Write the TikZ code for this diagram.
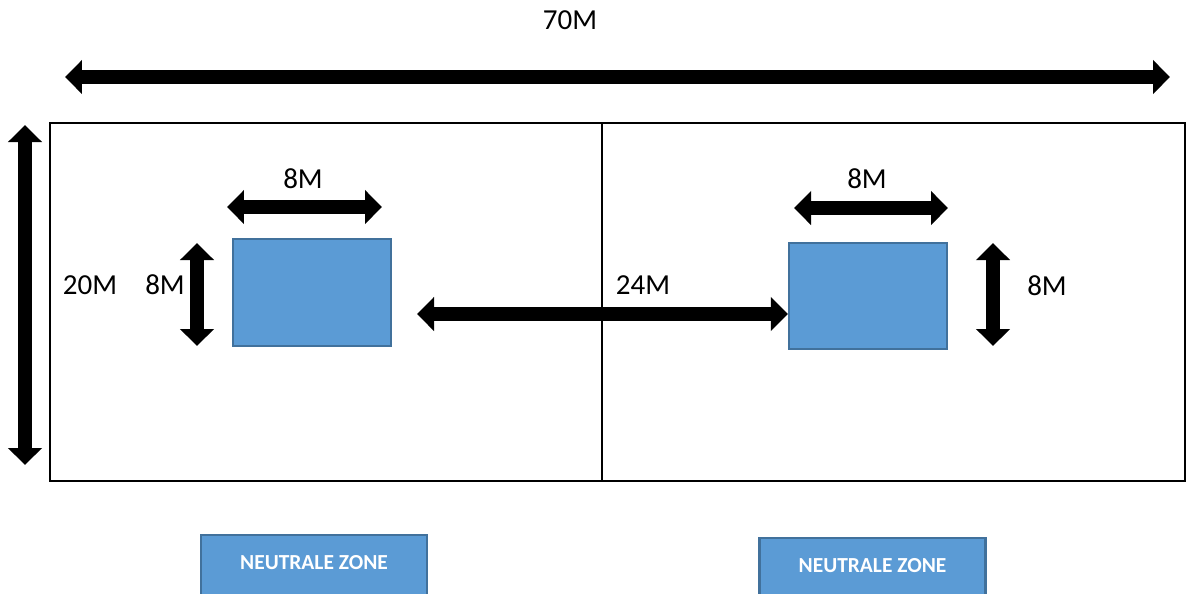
\documentclass[tikz,border=0pt]{standalone}
\usepackage{fontspec}
\setmainfont{Carlito}
\usetikzlibrary{arrows.meta}
\definecolor{zoneblue}{HTML}{5B9BD5}
\definecolor{zoneedge}{HTML}{41719C}

\begin{document}
\begin{tikzpicture}[x=0.02cm, y=-0.02cm,
    dimension/.style ={line width=0.28cm, {Triangle[width=0.66cm,length=0.34cm]}-{Triangle[width=0.66cm,length=0.34cm]}},
    goalbox/.style ={rectangle, draw=zoneedge, fill=zoneblue, line width=1.2pt, inner sep=0pt},
    zonebox/.style ={rectangle, draw=zoneedge, fill=zoneblue, line width=1.4pt, inner sep=0pt,
      text=white, font=\fontsize{12.2}{14}\selectfont\bfseries, minimum width=4.52cm, minimum height=1.22cm},
    measure/.style ={font=\fontsize{16.5}{19}\selectfont}]
   \useasboundingbox (0,0) rectangle (1187,593);

   \node[measure] (L70)  at (570,20)  {70M};
   \node[measure] (L20)  at (90,285)  {20M};
   \node[measure] (L8a)  at (165,285) {8M};
   \node[measure] (L8b)  at (303,179) {8M};
   \node[measure] (L8c)  at (867,179) {8M};
   \node[measure] (L8d)  at (1047,286) {8M};
   \node[measure] (L24)  at (643,285) {24M};

   \node[goalbox, minimum width=3.16cm, minimum height=2.14cm] (GL) at (312,292.5) {};
   \node[goalbox, minimum width=3.16cm, minimum height=2.12cm] (GR) at (868,296) {};

   \node[zonebox] (ZL) at (314,565.5) {\raisebox{3pt}{NEUTRALE ZONE}};
   \node[zonebox] (ZR) at (872.5,568.5) {\raisebox{3pt}{NEUTRALE ZONE}};

   \coordinate (FA) at (50,123);
   \coordinate (FB) at (1185,481);
   \coordinate (MA) at (602,123);
   \coordinate (MB) at (602,481);
   \draw[line width=1.2pt] (FA) rectangle (FB);
   \draw[line width=1.2pt] (MA) to (MB);

   \coordinate (T1) at (65,77);
   \coordinate (T2) at (1170,77);
   \coordinate (S1) at (25,125);
   \coordinate (S2) at (25,465);
   \coordinate (V1) at (197,243);
   \coordinate (V2) at (197,346);
   \coordinate (H1) at (227,207);
   \coordinate (H2) at (382,207);
   \coordinate (H3) at (794,208);
   \coordinate (H4) at (948,208);
   \coordinate (V3) at (993,243);
   \coordinate (V4) at (993,346);
   \coordinate (C1) at (417,314);

   \draw[dimension] (T1) to (T2);
   \draw[dimension] (S1) to (S2);
   \draw[dimension] (V1) to (V2);
   \draw[dimension] (H1) to (H2);
   \draw[dimension] (H3) to (H4);
   \draw[dimension] (V3) to (V4);
   \draw[dimension] (C1) to (C1 -| GR.west);

 \end{tikzpicture}
\end{document}
